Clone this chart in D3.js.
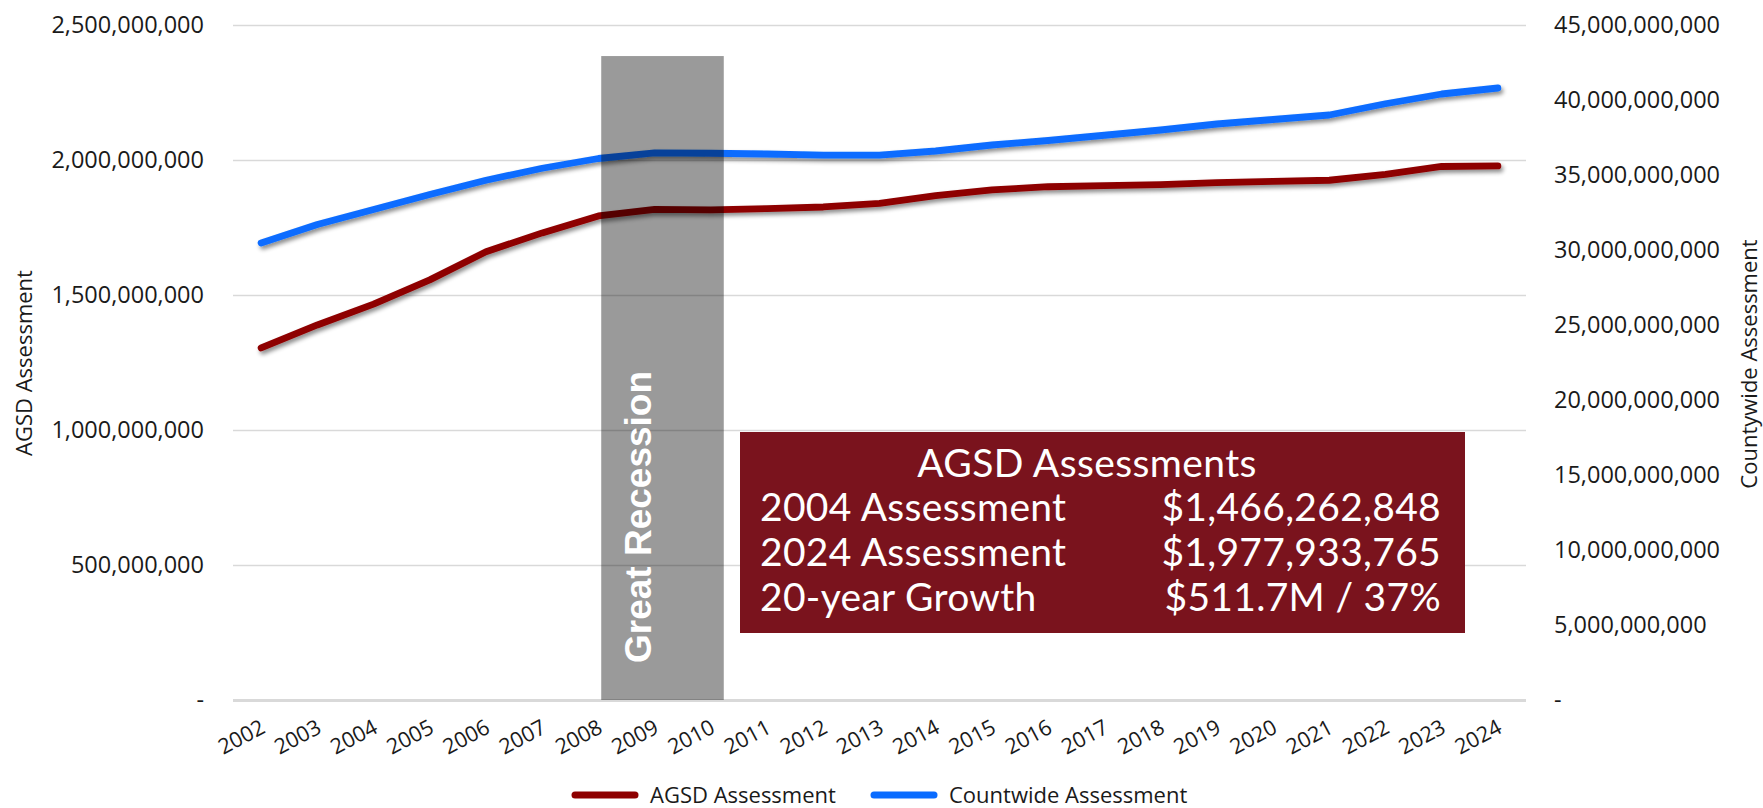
<!DOCTYPE html>
<html>
<head>
<meta charset="utf-8">
<script src="https://cdn.jsdelivr.net/npm/d3@7"></script>
<style>
  html, body { margin: 0; padding: 0; background: #ffffff; }
  svg { display: block; }
  .tick text { font-family: "Open Sans", "Noto Sans", sans-serif; fill: #1a1a1a; }
</style>
</head>
<body>
<svg id="chart" width="1763" height="808"></svg>
<script>
// ---- data ----
const years = [2002, 2003, 2004, 2005, 2006, 2007, 2008, 2009, 2010, 2011, 2012,
               2013, 2014, 2015, 2016, 2017, 2018, 2019, 2020, 2021, 2022, 2023, 2024];

// AGSD assessed value (left axis)
const agsdValues = [1304e6, 1389e6, 1466262848, 1556e6, 1660e6, 1730e6, 1793e6, 1817e6,
                    1815e6, 1820e6, 1826e6, 1839e6, 1868e6, 1889e6, 1901e6, 1905e6,
                    1909e6, 1916e6, 1921e6, 1925e6, 1947e6, 1976e6, 1977933765];

// Countywide assessed value (right axis)
const countyValues = [30.47e9, 31.7e9, 32.7e9, 33.7e9, 34.65e9, 35.45e9, 36.1e9, 36.47e9,
                      36.45e9, 36.4e9, 36.33e9, 36.33e9, 36.6e9, 37.0e9, 37.3e9, 37.65e9,
                      38.0e9, 38.4e9, 38.7e9, 39.0e9, 39.75e9, 40.4e9, 40.8e9];

const leftTicks  = [0, 5e8, 1e9, 1.5e9, 2e9, 2.5e9];
const rightTicks = [0, 5e9, 10e9, 15e9, 20e9, 25e9, 30e9, 35e9, 40e9, 45e9];

// Great Recession shading: span in year units, top in AGSD units
const recessionSpan = [2008.05, 2010.23];
const recessionTop = 2.385e9;

const seriesNames = ["AGSD Assessment", "Countwide Assessment"];
const seriesColors = ["#8e0000", "#0a6cff"];

const summaryTitle = "AGSD Assessments";
const summaryRows = [
  ["2004 Assessment", "$1,466,262,848"],
  ["2024 Assessment", "$1,977,933,765"],
  ["20-year Growth", "$511.7M / 37%"]
];

// ---- layout ----
const plot = { left: 233, right: 1526, top: 25, bottom: 700 };
const svg = d3.select("#chart");

const x = d3.scalePoint().domain(years).range([plot.left, plot.right]).padding(0.5);
const xYear = d3.scaleLinear().domain([years[0], years[years.length - 1]])
  .range([x(years[0]), x(years[years.length - 1])]);
const yL = d3.scaleLinear().domain([0, 2.5e9]).range([plot.bottom, plot.top]);
const yR = d3.scaleLinear().domain([0, 45e9]).range([plot.bottom, plot.top]);

const fmt = v => v === 0 ? "-" : d3.format(",")(v);

// drop shadow for the series lines
const defs = svg.append("defs");
const f = defs.append("filter").attr("id", "lineShadow")
  .attr("x", "-5%").attr("y", "-20%").attr("width", "110%").attr("height", "160%");
f.append("feDropShadow").attr("dx", 2).attr("dy", 3).attr("stdDeviation", 2.2)
  .attr("flood-color", "#000").attr("flood-opacity", 0.45);

// gridlines
const grid = svg.append("g").attr("transform", `translate(${plot.left},0)`)
  .call(d3.axisLeft(yL).tickValues(leftTicks).tickSize(-(plot.right - plot.left)).tickFormat(""));
grid.select(".domain").remove();
grid.selectAll(".tick line").attr("stroke", "#d9d9d9")
  .attr("stroke-width", d => d === 0 ? 3 : 1.6);

// left axis
const axL = svg.append("g").attr("transform", `translate(${plot.left},0)`)
  .call(d3.axisLeft(yL).tickValues(leftTicks).tickFormat(fmt).tickSize(0).tickPadding(29));
axL.select(".domain").remove();
axL.selectAll("text").style("font-size", "23.5px");

// right axis
const axR = svg.append("g").attr("transform", `translate(${plot.right},0)`)
  .call(d3.axisRight(yR).tickValues(rightTicks).tickFormat(fmt).tickSize(0).tickPadding(28));
axR.select(".domain").remove();
axR.selectAll("text").style("font-size", "23.5px");

// x axis with slanted year labels
const axX = svg.append("g").attr("transform", `translate(0,${plot.bottom})`)
  .call(d3.axisBottom(x).tickSize(0).tickPadding(0));
axX.select(".domain").remove();
axX.selectAll(".tick text")
  .attr("y", 0).attr("dy", 0)
  .attr("text-anchor", "end")
  .attr("transform", "translate(5,32) rotate(-28)")
  .style("font-size", "21.5px");

// series lines
const lineL = d3.line().x((d, i) => x(years[i])).y(d => yL(d));
const lineR = d3.line().x((d, i) => x(years[i])).y(d => yR(d));

svg.append("path").datum(agsdValues)
  .attr("d", lineL).attr("fill", "none")
  .attr("stroke", seriesColors[0]).attr("stroke-width", 6.8)
  .attr("stroke-linecap", "round").attr("stroke-linejoin", "round")
  .attr("filter", "url(#lineShadow)");

svg.append("path").datum(countyValues)
  .attr("d", lineR).attr("fill", "none")
  .attr("stroke", seriesColors[1]).attr("stroke-width", 6.8)
  .attr("stroke-linecap", "round").attr("stroke-linejoin", "round")
  .attr("filter", "url(#lineShadow)");

// Great Recession band
const bx0 = xYear(recessionSpan[0]), bx1 = xYear(recessionSpan[1]);
svg.append("rect")
  .attr("x", bx0).attr("y", yL(recessionTop))
  .attr("width", bx1 - bx0).attr("height", yL(0) - yL(recessionTop))
  .attr("fill", "#000").attr("fill-opacity", 0.395);

svg.append("text")
  .attr("transform", `translate(${(bx0 + bx1) / 2 - 12},663) rotate(-90)`)
  .attr("text-anchor", "start")
  .style("font-family", "'Liberation Sans', Arial, sans-serif")
  .style("font-weight", "bold")
  .style("font-size", "37px")
  .attr("fill", "#ffffff")
  .text("Great Recession");

// summary box
const box = { x0: 740, y0: 432, x1: 1465, y1: 633 };
svg.append("rect")
  .attr("x", box.x0).attr("y", box.y0)
  .attr("width", box.x1 - box.x0).attr("height", box.y1 - box.y0)
  .attr("fill", "#7a131d");

const boxFont = "Lato, 'Open Sans', sans-serif";
const boxSize = "39px";
svg.append("text")
  .attr("x", 1087).attr("y", 477)
  .attr("text-anchor", "middle")
  .style("font-family", boxFont).style("font-size", boxSize)
  .style("letter-spacing", "0.4px")
  .attr("fill", "#fff").text(summaryTitle);

summaryRows.forEach((r, i) => {
  const yy = 521 + i * 45;
  svg.append("text").attr("x", 760).attr("y", yy)
    .style("font-family", boxFont).style("font-size", boxSize)
    .style("letter-spacing", "0.3px")
    .attr("fill", "#fff").text(r[0]);
  svg.append("text").attr("x", 1441).attr("y", yy)
    .attr("text-anchor", "end")
    .style("font-family", boxFont).style("font-size", boxSize)
    .style("letter-spacing", "0.3px")
    .attr("fill", "#fff").text(r[1]);
});

// axis titles
svg.append("text")
  .attr("transform", "translate(32,363) rotate(-90)")
  .attr("text-anchor", "middle")
  .style("font-family", "'Open Sans', sans-serif").style("font-size", "22px")
  .attr("fill", "#1a1a1a").text("AGSD Assessment");

svg.append("text")
  .attr("transform", "translate(1757,364) rotate(-90)")
  .attr("text-anchor", "middle")
  .style("font-family", "'Open Sans', sans-serif").style("font-size", "22px")
  .attr("fill", "#1a1a1a").text("Countywide Assessment");

// legend
const legendItems = [
  { name: seriesNames[0], color: seriesColors[0], x: 571 },
  { name: seriesNames[1], color: seriesColors[1], x: 870 }
];
const lg = svg.append("g");
legendItems.forEach(it => {
  lg.append("line")
    .attr("x1", it.x + 4).attr("x2", it.x + 64)
    .attr("y1", 795).attr("y2", 795)
    .attr("stroke", it.color).attr("stroke-width", 7).attr("stroke-linecap", "round");
  lg.append("text")
    .attr("x", it.x + 79).attr("y", 795).attr("dy", "0.35em")
    .style("font-family", "'Open Sans', sans-serif").style("font-size", "22px")
    .attr("fill", "#1a1a1a").text(it.name);
});
</script>
</body>
</html>
